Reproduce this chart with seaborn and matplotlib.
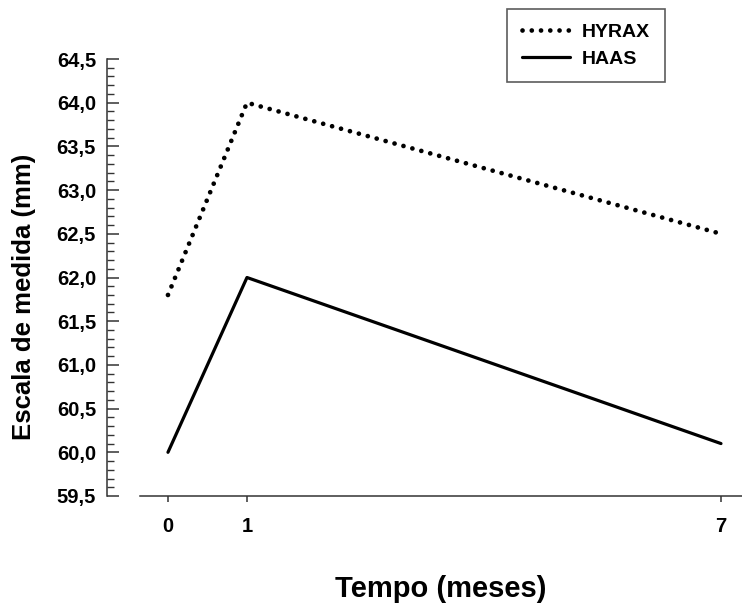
import matplotlib
matplotlib.use("Agg")
import matplotlib.pyplot as plt
import seaborn as sns
import pandas as pd
from matplotlib.ticker import MultipleLocator, FixedLocator

tempo = [0, 1, 7]
hyrax = [61.8, 64.0, 62.5]
haas = [60.0, 62.0, 60.1]
grupos = ["HYRAX", "HAAS"]
yticks = [59.5, 60.0, 60.5, 61.0, 61.5, 62.0, 62.5, 63.0, 63.5, 64.0, 64.5]

df = pd.DataFrame({
    "tempo": tempo * 2,
    "valor": hyrax + haas,
    "grupo": ["HYRAX"] * 3 + ["HAAS"] * 3,
})

sns.set_theme(style="white")
plt.rcParams["font.family"] = ["Liberation Sans", "DejaVu Sans"]
plt.rcParams["font.weight"] = "bold"
for k in ["text.color", "axes.labelcolor", "xtick.labelcolor", "ytick.labelcolor"]:
    plt.rcParams[k] = "black"

PT = 72 / 100  # points per pixel at dpi 100

fig = plt.figure(figsize=(7.42, 6.04), dpi=100)
ax = fig.add_axes([140/742, 1-496/604, 1-140/742, (496-59)/604])

sns.lineplot(data=df[df.grupo == "HYRAX"], x="tempo", y="valor", ax=ax,
             color="black", linewidth=3.4, label="HYRAX")
sns.lineplot(data=df[df.grupo == "HAAS"], x="tempo", y="valor", ax=ax,
             color="black", linewidth=2.3, label="HAAS")
l1, l2 = ax.get_lines()[:2]
l1.set_linestyle((0, (0.01, 1.95)))
l1.set_dash_capstyle("round")

ax.set_xlim(-0.354, 7.266)
ax.set_ylim(59.5, 64.5)
for s in ["top", "right"]:
    ax.spines[s].set_visible(False)
ax.spines["left"].set_position(("outward", 33 * PT))
for s in ["left", "bottom"]:
    ax.spines[s].set_color("#333333")
    ax.spines[s].set_linewidth(1.1)

ax.xaxis.set_major_locator(FixedLocator(tempo))
ax.set_xticklabels([str(t) for t in tempo])
ax.yaxis.set_major_locator(FixedLocator(yticks))
ax.yaxis.set_minor_locator(MultipleLocator(0.1))
ax.set_yticklabels([f"{v:.1f}".replace(".", ",") for v in yticks])
ax.tick_params(axis="x", which="major", direction="out", length=6 * PT, width=1.1,
               color="#333333", labelsize=14.5, pad=15 * PT, bottom=True)
ax.tick_params(axis="y", which="major", direction="in", length=12 * PT, width=1.1,
               color="#333333", labelsize=14.5, pad=11 * PT, left=True)
ax.tick_params(axis="y", which="minor", direction="in", length=7 * PT, width=1.0,
               color="#333333", left=True)
for lab in ax.get_xticklabels() + ax.get_yticklabels():
    lab.set_fontweight("bold")

ax.set_xlabel("Tempo (meses)", fontsize=21, fontweight="bold")
ax.xaxis.set_label_coords(0.5, (496 - 575) / 437)
ax.set_ylabel("Escala de medida (mm)", fontsize=18.5, fontweight="bold")
ax.yaxis.set_label_coords((36 - 140) / 602, (496 - 297) / 437)

ax.get_legend().remove()
leg = fig.legend(handles=[l1, l2], labels=grupos, loc="upper left",
                 bbox_to_anchor=(507/742, 1-9/604), borderaxespad=0,
                 frameon=True, fancybox=False,
                 prop={"weight": "bold", "size": 14}, handlelength=2.5,
                 borderpad=0.75, labelspacing=0.45, handletextpad=0.6)
leg.get_frame().set_edgecolor("#333333")
leg.get_frame().set_linewidth(1.2)
for t in leg.get_texts():
    t.set_color("black")

fig.savefig("out.png", dpi=100)
